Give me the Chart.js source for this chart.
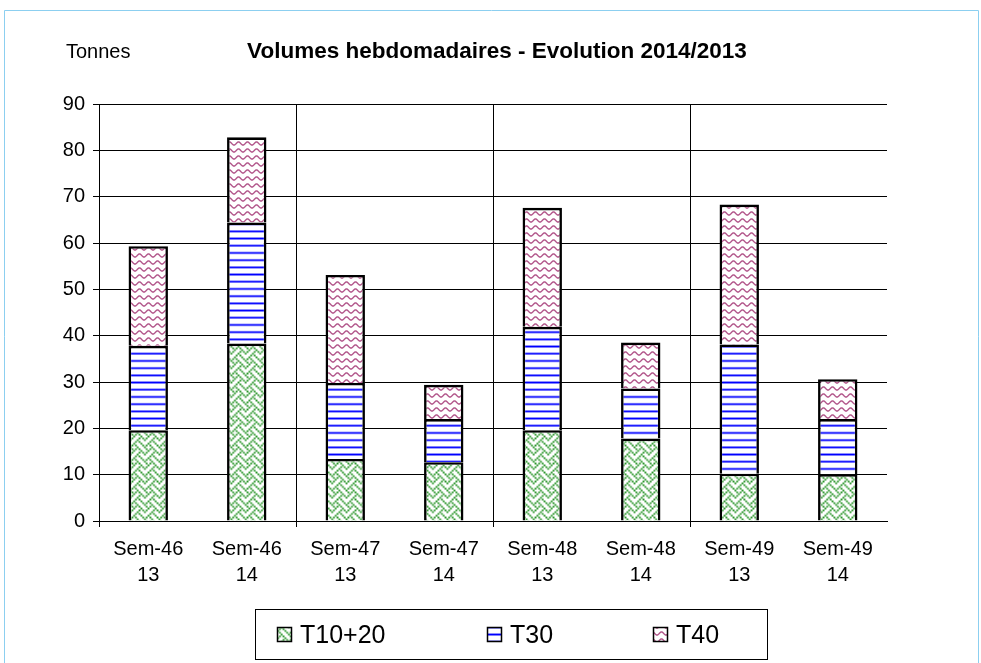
<!DOCTYPE html>
<html>
<head>
<meta charset="utf-8">
<script src="https://cdn.jsdelivr.net/npm/chart.js@4.4.1/dist/chart.umd.min.js"></script>
<style>
  html, body { margin: 0; padding: 0; background: #fff; }
  #wrap { width: 981px; height: 663px; position: relative; }
</style>
</head>
<body>
<div id="wrap"><canvas id="chart" width="981" height="663"></canvas></div>
<script>
// data (tonnes)
const weeks = ['Sem-46', 'Sem-46', 'Sem-47', 'Sem-47', 'Sem-48', 'Sem-48', 'Sem-49', 'Sem-49'];
const years = ['13', '14', '13', '14', '13', '14', '13', '14'];
const seriesNames = ['T10+20', 'T30', 'T40'];
const t1020 = [19.6, 38.3, 13.4, 12.7, 19.6, 17.8, 10.2, 10.1];
const t30 = [18.2, 26.1, 16.4, 9.3, 22.3, 10.8, 27.9, 11.9];
const t40 = [21.5, 18.4, 23.3, 7.4, 25.7, 9.9, 30.2, 8.6];
const yTicks = [0, 10, 20, 30, 40, 50, 60, 70, 80, 90];
const titleText = 'Volumes hebdomadaires - Evolution 2014/2013';
const unitText = 'Tonnes';

const FONT = '"Liberation Sans", Arial, sans-serif';

// 8x8 bitmap hatch, scaled up like the original
function bitmapPattern(rows, color, scale) {
    const cv = document.createElement('canvas');
    cv.width = 8; cv.height = 8;
    const g = cv.getContext('2d');
    g.fillStyle = '#fff';
    g.fillRect(0, 0, 8, 8);
    g.fillStyle = color;
    rows.forEach((r, y) => {
        for (let x = 0; x < 8; x++) {
            if (r & (0x80 >> x)) g.fillRect(x, y, 1, 1);
        }
    });
    const p = document.createElement('canvas').getContext('2d').createPattern(cv, 'repeat');
    p.setTransform(new DOMMatrix().scale(scale, scale));
    return p;
}

function wavePattern(color) {
    const cv = document.createElement('canvas');
    cv.width = 9; cv.height = 7;
    const g = cv.getContext('2d');
    g.fillStyle = '#fff';
    g.fillRect(0, 0, 9, 7);
    g.strokeStyle = color;
    g.lineWidth = 1.4;
    g.beginPath();
    for (let x = -1; x <= 10; x += 0.5) {
        const y = 3.5 + 1.6 * Math.cos(x / 9 * Math.PI * 2);
        if (x === -1) g.moveTo(x, y); else g.lineTo(x, y);
    }
    g.stroke();
    return document.createElement('canvas').getContext('2d').createPattern(cv, 'repeat');
}

const greenPat = bitmapPattern([0x88, 0x54, 0x22, 0x45, 0x88, 0x14, 0x22, 0x51], '#2a962a', 1.8);
const bluePat = bitmapPattern([0xff, 0x00, 0x00, 0x00, 0xff, 0x00, 0x00, 0x00], '#0000ff', 1.8);
const pinkPat = wavePattern('#b2578b');
const fills = [greenPat, bluePat, pinkPat];

const decor = {
    id: 'decor',
    afterDraw(chart) {
        const c = chart.ctx;
        c.save();
        // outer frame
        c.strokeStyle = '#8ccff0';
        c.lineWidth = 1;
        c.beginPath();
        c.moveTo(4.5, 663); c.lineTo(4.5, 10.5); c.lineTo(978.5, 10.5); c.lineTo(978.5, 663);
        c.stroke();

        c.fillStyle = '#000';
        c.textBaseline = 'middle';
        c.textAlign = 'left';
        c.font = '20px ' + FONT;
        c.fillText(unitText, 66, 52);
        c.textAlign = 'center';
        c.font = 'bold 22.5px ' + FONT;
        c.fillText(titleText, 497, 52);

        // legend box
        c.strokeStyle = '#000';
        c.lineWidth = 1;
        c.strokeRect(255.5, 609.5, 512, 50);
        const xs = [277, 487, 653];
        c.font = '25px ' + FONT;
        c.textAlign = 'left';
        chart.data.datasets.forEach((ds, i) => {
            c.fillStyle = ds.backgroundColor;
            c.fillRect(xs[i], 627, 15, 15);
            c.lineWidth = 1.5;
            c.strokeRect(xs[i] + 0.5, 627.5, 14, 14);
            c.fillStyle = '#000';
            c.fillText(ds.label, xs[i] + 23, 636);
        });
        c.restore();
    }
};

new Chart(document.getElementById('chart'), {
    type: 'bar',
    data: {
        labels: weeks.map((w, i) => [w, years[i]]),
        datasets: [t1020, t30, t40].map((d, i) => ({
            label: seriesNames[i],
            data: d,
            backgroundColor: fills[i],
            borderColor: '#000',
            borderWidth: 2.6,
            barPercentage: 0.4,
            categoryPercentage: 1
        }))
    },
    options: {
        responsive: false,
        animation: false,
        devicePixelRatio: 1,
        layout: { padding: { top: 104, right: 94, left: 0, bottom: 0 } },
        plugins: { legend: { display: false }, tooltip: { enabled: false }, title: { display: false } },
        scales: {
            x: {
                stacked: true,
                grid: {
                    offset: true,
                    color: ctx => (ctx.index % 2 === 0 ? '#000' : 'rgba(0,0,0,0)'),
                    lineWidth: 1,
                    tickLength: 6
                },
                border: { color: '#000', width: 1 },
                ticks: { color: '#000', font: { size: 20, family: FONT, lineHeight: 1.3 }, padding: 9, maxRotation: 0, autoSkip: false },
                afterFit: s => { s.height = 142; }
            },
            y: {
                stacked: true,
                min: yTicks[0],
                max: yTicks[yTicks.length - 1],
                afterBuildTicks: s => { s.ticks = yTicks.map(v => ({ value: v })); },
                grid: { color: '#000', lineWidth: 1, tickLength: 6 },
                border: { color: '#000', width: 1 },
                ticks: { color: '#000', font: { size: 20, family: FONT }, padding: 8 },
                afterFit: s => { s.width = 99; }
            }
        }
    },
    plugins: [decor]
});
</script>
</body>
</html>
